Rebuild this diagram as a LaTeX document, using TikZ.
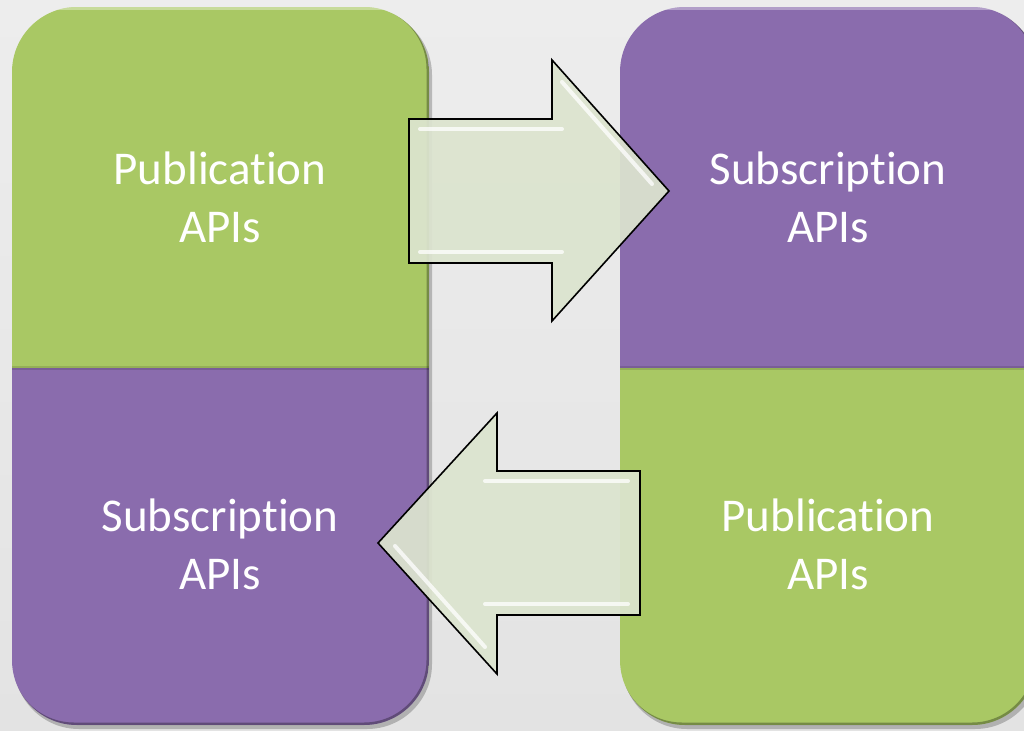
\documentclass[tikz,border=0pt]{standalone}
\usepackage{fontspec}
\setmainfont[RawFeature={-liga}]{Carlito}
\definecolor{pgreen}{HTML}{A9C864}
\definecolor{ppurple}{HTML}{8A6CAD}
\definecolor{arrowfill}{HTML}{DCE4CF}
\definecolor{bgtop}{HTML}{EDEDED}
\definecolor{bgbottom}{HTML}{E3E3E3}
\begin{document}
\begin{tikzpicture}[x=1pt,y=-1pt,
  apilabel/.style={text=white, font=\fontsize{47}{58}\selectfont, align=center, inner sep=0pt},
  blockarrow/.style={fill=arrowfill, fill opacity=0.93, draw=black, line width=1.6pt, line join=miter},
  bevel/.style={white, line width=4pt, opacity=0.75, line cap=round},
  boxshadow/.style={black, opacity=0.22, rounded corners=65pt},
  boxedge/.style={black, opacity=0.3, line width=5pt, rounded corners=65pt},
  boxgloss/.style={white, opacity=0.35, line width=3pt}]
\useasboundingbox (0,0) rectangle (1024,730);
\shade[top color=bgtop, bottom color=bgbottom] (0,0) rectangle (1024,730);

% one two-coloured column: #1 left x, #2 right x, #3 upper colour, #4 lower colour
\newcommand\apicolumn[4]{%
  \fill[boxshadow] (#1+2,10) rectangle (#2+3,729);
  \begin{scope}
    \clip[rounded corners=65pt] (#1,7) rectangle (#2,725);
    \fill[#3] (#1,7) rectangle (#2,368);
    \fill[#4] (#1,368) rectangle (#2,725);
    \fill[black, opacity=0.12] (#1,366) rectangle (#2,370);
    \draw[boxedge] (#1-3,4) rectangle (#2,725);
    \draw[boxgloss] (#1+30,9) -- (#2-30,9);
  \end{scope}}

\apicolumn{12}{429}{pgreen}{ppurple}
\apicolumn{620}{1037}{ppurple}{pgreen}

\node[apilabel] (lpub) at (220,197) {Publication\\APIs};
\node[apilabel] (lsub) at (220,544) {Subscription\\APIs};
\node[apilabel] (rsub) at (828,197) {Subscription\\APIs};
\node[apilabel] (rpub) at (828,544) {Publication\\APIs};

% block arrow pointing right
\draw[blockarrow] (409,119) -- (552,119) -- (552,60) -- (669,191)
  -- (552,321) -- (552,263) -- (409,263) -- cycle;
\draw[bevel] (420,129) -- (562,129);
\draw[bevel] (420,252) -- (562,252);
\draw[bevel] (562,82) -- (652,184);

% block arrow pointing left
\draw[blockarrow] (640,471) -- (497,471) -- (497,413) -- (378,543)
  -- (497,674) -- (497,615) -- (640,615) -- cycle;
\draw[bevel] (485,481) -- (628,481);
\draw[bevel] (485,604) -- (628,604);
\draw[bevel] (395,546) -- (485,647);
\end{tikzpicture}
\end{document}
